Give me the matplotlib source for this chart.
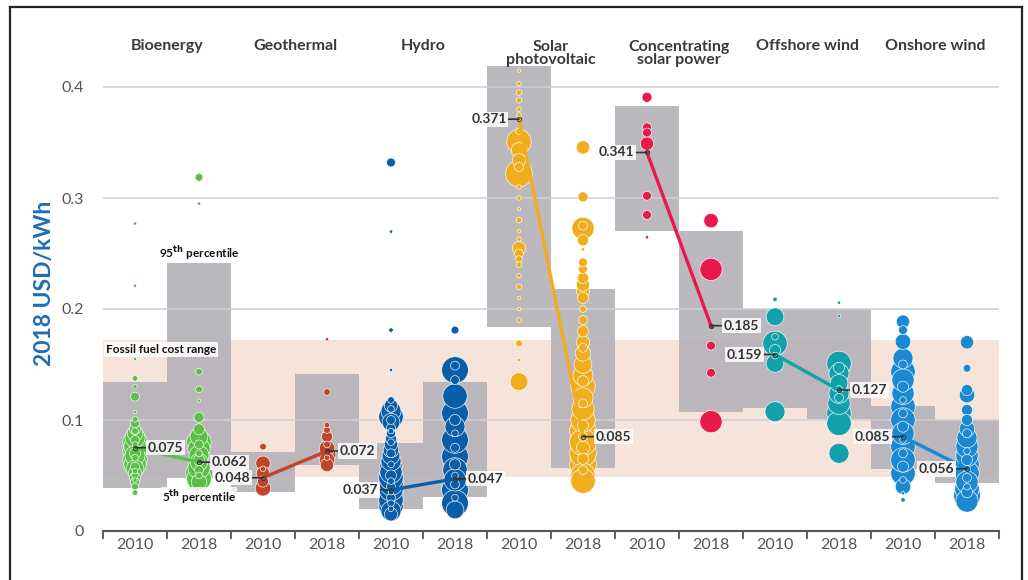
import numpy as np
import matplotlib as mpl
mpl.use('Agg')
import matplotlib.pyplot as plt
from matplotlib.lines import Line2D

plt.rcParams['font.family'] = ['Lato', 'DejaVu Sans']
plt.rcParams['mathtext.fontset'] = 'dejavusans'

# technologies (two columns each: 2010, 2018)
technologies = ['Bioenergy', 'Geothermal', 'Hydro', 'Solar\nphotovoltaic',
                'Concentrating\nsolar power', 'Offshore wind', 'Onshore wind']
years = ['2010', '2018']
tech_colors = ['#5cbf4a', '#c0452b', '#0a5ea8', '#f0ae1e',
               '#e8194b', '#12a0aa', '#1b88d2']

# capacity-weighted averages, 2018 USD/kWh
avg_2010 = [0.075, 0.048, 0.037, 0.371, 0.341, 0.159, 0.085]
avg_2018 = [0.062, 0.072, 0.047, 0.085, 0.185, 0.127, 0.056]

# 5th / 95th percentile boxes
p5_2010 = [0.0385, 0.0354, 0.0195, 0.1835, 0.2705, 0.111, 0.0556]
p95_2010 = [0.1345, 0.0714, 0.0796, 0.419, 0.383, 0.1997, 0.1129]
p5_2018 = [0.0475, 0.0595, 0.0303, 0.0565, 0.1075, 0.101, 0.043]
p95_2018 = [0.2417, 0.141, 0.1345, 0.2177, 0.2705, 0.2, 0.100]

# fossil fuel cost range
fossil_low = 0.049
fossil_high = 0.172

# individual projects: lcoe and relative project size (bubble diameter)
bio_2010_lcoe = [0.277, 0.221, 0.155, 0.1375, 0.130, 0.121, 0.107, 0.1006, 0.097,
                 0.092, 0.088, 0.084, 0.080, 0.076, 0.072, 0.068, 0.064, 0.060,
                 0.056, 0.052, 0.048, 0.044, 0.040, 0.0345, 0.090, 0.082, 0.078,
                 0.070, 0.066, 0.058, 0.054, 0.050, 0.046]
bio_2010_size = [2, 2, 1.5, 5, 4, 8, 3, 5, 8, 10, 14, 18, 22, 20, 22, 18, 22, 20,
                 16, 12, 10, 8, 6, 5, 6, 8, 5, 10, 6, 8, 5, 6, 4]
bio_2018_lcoe = [0.3186, 0.295, 0.1435, 0.1276, 0.1174, 0.1024, 0.0916, 0.085,
                 0.080, 0.074, 0.068, 0.062, 0.057, 0.052, 0.047, 0.044, 0.078,
                 0.070, 0.064, 0.055, 0.050]
bio_2018_size = [7, 2, 6, 6, 3, 9, 10, 16, 22, 20, 18, 16, 20, 24, 22, 14, 8, 6,
                 10, 8, 6]

geo_2010_lcoe = [0.076, 0.061, 0.052, 0.0445, 0.0385, 0.056]
geo_2010_size = [6, 13, 12, 10, 14, 5]
geo_2018_lcoe = [0.1727, 0.1252, 0.0955, 0.091, 0.085, 0.0745, 0.0685, 0.064,
                 0.0595, 0.078, 0.066]
geo_2018_size = [3, 6, 5, 6, 10, 14, 16, 14, 12, 6, 5]

hydro_2010_lcoe = [0.332, 0.2697, 0.181, 0.145, 0.118, 0.113, 0.108, 0.103, 0.098,
                   0.093, 0.088, 0.083, 0.078, 0.073, 0.068, 0.063, 0.058, 0.053,
                   0.048, 0.043, 0.038, 0.033, 0.028, 0.023, 0.018, 0.015, 0.11,
                   0.10, 0.09, 0.08, 0.07, 0.06, 0.05, 0.045, 0.04, 0.035, 0.03,
                   0.025, 0.02]
hydro_2010_size = [8, 2, 4, 3, 6, 12, 18, 22, 16, 8, 8, 10, 12, 14, 16, 18, 20, 20,
                   22, 22, 22, 22, 22, 22, 18, 12, 6, 8, 5, 6, 8, 6, 10, 6, 8, 5,
                   8, 6, 5]
hydro_2018_lcoe = [0.181, 0.145, 0.136, 0.1216, 0.106, 0.094, 0.082, 0.067, 0.055,
                   0.046, 0.037, 0.025, 0.019, 0.149, 0.10, 0.088, 0.075, 0.06,
                   0.05, 0.042, 0.03]
hydro_2018_size = [7, 24, 8, 22, 24, 18, 24, 24, 22, 20, 24, 24, 16, 8, 10, 6, 8,
                   10, 6, 8, 6]

pv_2010_lcoe = [0.4147, 0.403, 0.395, 0.388, 0.380, 0.375, 0.3508, 0.343, 0.334,
                0.322, 0.310, 0.300, 0.290, 0.280, 0.270, 0.2547, 0.250, 0.240,
                0.230, 0.220, 0.210, 0.200, 0.190, 0.169, 0.154, 0.1345, 0.36,
                0.328, 0.263, 0.245]
pv_2010_size = [3, 4, 5, 5, 4, 4, 22, 14, 12, 24, 4, 4, 3, 5, 3, 12, 8, 5, 4, 5,
                3, 3, 4, 6, 3, 16, 6, 8, 4, 6]
pv_2018_lcoe = [0.3456, 0.301, 0.2727, 0.262, 0.2538, 0.242, 0.236, 0.228, 0.222,
                0.216, 0.210, 0.190, 0.180, 0.170, 0.160, 0.150, 0.140, 0.130,
                0.120, 0.110, 0.100, 0.090, 0.080, 0.070, 0.060, 0.050, 0.045,
                0.275, 0.20, 0.165, 0.135, 0.115, 0.095, 0.085, 0.075, 0.065,
                0.055]
pv_2018_size = [12, 9, 20, 10, 3, 8, 8, 10, 12, 12, 10, 8, 10, 12, 14, 16, 18, 22,
                18, 20, 22, 24, 24, 24, 24, 22, 22, 8, 6, 8, 10, 8, 10, 8, 12,
                10, 8]

csp_2010_lcoe = [0.3907, 0.3637, 0.359, 0.349, 0.302, 0.2847, 0.2646]
csp_2010_size = [9, 8, 8, 12, 8, 8, 3]
csp_2018_lcoe = [0.2796, 0.2357, 0.167, 0.1426, 0.0985]
csp_2018_size = [13, 20, 8, 8, 20]

off_2010_lcoe = [0.2087, 0.193, 0.169, 0.163, 0.151, 0.1075, 0.175, 0.158]
off_2010_size = [4, 16, 22, 10, 16, 18, 6, 6]
off_2018_lcoe = [0.2057, 0.1937, 0.151, 0.142, 0.133, 0.124, 0.115, 0.106, 0.097,
                 0.070, 0.147, 0.128, 0.12]
off_2018_size = [2, 2, 22, 18, 16, 18, 20, 22, 22, 18, 10, 6, 8]

on_2010_lcoe = [0.1886, 0.181, 0.1706, 0.1556, 0.1435, 0.136, 0.124, 0.112, 0.100,
                0.088, 0.076, 0.064, 0.052, 0.040, 0.034, 0.028, 0.15, 0.13,
                0.118, 0.106, 0.094, 0.082, 0.07, 0.058, 0.046]
on_2010_size = [12, 8, 14, 18, 22, 20, 20, 22, 22, 20, 22, 22, 22, 14, 3, 4, 8, 10,
                6, 8, 10, 6, 8, 10, 6]
on_2018_lcoe = [0.170, 0.1466, 0.127, 0.1225, 0.109, 0.100, 0.092, 0.084, 0.076,
                0.068, 0.060, 0.052, 0.044, 0.038, 0.032, 0.027, 0.088, 0.072,
                0.064, 0.056, 0.048, 0.04, 0.035]
on_2018_size = [12, 7, 10, 14, 10, 10, 14, 18, 20, 20, 22, 22, 20, 22, 24, 20, 8,
                6, 10, 6, 8, 6, 10]

projects = [
    (bio_2010_lcoe, bio_2010_size), (bio_2018_lcoe, bio_2018_size),
    (geo_2010_lcoe, geo_2010_size), (geo_2018_lcoe, geo_2018_size),
    (hydro_2010_lcoe, hydro_2010_size), (hydro_2018_lcoe, hydro_2018_size),
    (pv_2010_lcoe, pv_2010_size), (pv_2018_lcoe, pv_2018_size),
    (csp_2010_lcoe, csp_2010_size), (csp_2018_lcoe, csp_2018_size),
    (off_2010_lcoe, off_2010_size), (off_2018_lcoe, off_2018_size),
    (on_2010_lcoe, on_2010_size), (on_2018_lcoe, on_2018_size),
]

# which side the average label sits on, per column
label_sides = ['right', 'right', 'left', 'right', 'left', 'right', 'left',
               'right', 'left', 'right', 'left', 'right', 'left', 'left']

TEXT_DARK = '#333333'
TICK_GREY = '#555555'


def draw_bubbles(ax, x, lcoe, size, color):
    '''
    bubbles drawn big first so small ones sit on top with white rims
    '''
    lcoe = np.asarray(lcoe)
    size = np.maximum(np.asarray(size, dtype=float), 3)
    order = np.argsort(-size)
    # edge is drawn half outside, so add its width to the diameter
    ax.scatter(
        np.full(len(lcoe), x), lcoe[order],
        s=(size[order] * 0.8) ** 2,
        color=color, edgecolors='white', linewidths=0.45,
        zorder=4
    )


def label_average(ax, x, value, side):
    dx = 9 if side == 'right' else -9
    ax.annotate(
        '%.3f' % value,
        xy=(x, value), xytext=(dx, 0), textcoords='offset points',
        ha='left' if side == 'right' else 'right', va='center',
        fontsize=10, fontweight='bold', color=TEXT_DARK,
        bbox=dict(boxstyle='square,pad=0.12', fc='white', ec='none', alpha=0.85),
        arrowprops=dict(arrowstyle='-', color=TEXT_DARK, lw=1.2,
                        shrinkA=0, shrinkB=0),
        zorder=7
    )


fig = plt.figure(figsize=(10.28, 5.8), dpi=100)
ax = fig.add_axes([103 / 1028, 49 / 580, 896 / 1028, 499.5 / 580])
ax.set_xlim(0, 14)
ax.set_ylim(0, 0.45)

# fossil fuel band
ax.axhspan(fossil_low, fossil_high, xmin=0, xmax=1, color='#f6e3d9', lw=0, zorder=0)

# percentile boxes
n_tech = len(technologies)
left_x = np.arange(n_tech) * 2 + 0.5
right_x = left_x + 1
ax.bar(left_x, np.array(p95_2010) - np.array(p5_2010), bottom=p5_2010, width=1,
       color='#b6b3b9', alpha=0.93, lw=0, zorder=1)
ax.bar(right_x, np.array(p95_2018) - np.array(p5_2018), bottom=p5_2018, width=1,
       color='#b6b3b9', alpha=0.93, lw=0, zorder=1)

# gridlines
for gy in [0.1, 0.2, 0.3, 0.4]:
    ax.axhline(gy, color='#cfcfd3', lw=1.1, zorder=2)

# bubbles
for i, (lcoe, size) in enumerate(projects):
    draw_bubbles(ax, i + 0.5, lcoe, size, tech_colors[i // 2])

# averages + connecting lines
for t in range(n_tech):
    ax.plot([left_x[t], right_x[t]], [avg_2010[t], avg_2018[t]],
            color=tech_colors[t], lw=2.4, solid_capstyle='round', zorder=5)
    ax.scatter([left_x[t], right_x[t]], [avg_2010[t], avg_2018[t]], s=10,
               color=tech_colors[t], edgecolors=TEXT_DARK, linewidths=0.6, zorder=6)
    label_average(ax, left_x[t], avg_2010[t], label_sides[2 * t])
    label_average(ax, right_x[t], avg_2018[t], label_sides[2 * t + 1])

# technology titles
for t, name in enumerate(technologies):
    two_lines = '\n' in name
    ax.text(2 * t + 1, 0.4300 if two_lines else 0.4370, name,
            ha='center', va='center', fontsize=11.5, fontweight='bold',
            color='#3a3a3a', linespacing=0.95, clip_on=False)

# percentile / fossil annotations
ax.text(1.5, 0.2505, '95$^{\\bf th}$ percentile', ha='center', va='center',
        fontsize=8.5, fontweight='bold', color='#111111', zorder=7)
ax.text(1.5, 0.0306, '5$^{\\bf th}$ percentile', ha='center', va='center',
        fontsize=8.5, fontweight='bold', color='#111111', zorder=7,
        bbox=dict(boxstyle='square,pad=0.1', fc='white', ec='none', alpha=0.8))
ax.text(0.05, 0.1635, 'Fossil fuel cost range', ha='left', va='center',
        fontsize=8.5, fontweight='bold', color='#111111', zorder=7,
        bbox=dict(boxstyle='square,pad=0.15', fc='white', ec='none', alpha=0.9))

# axes styling
for side in ['top', 'right', 'left']:
    ax.spines[side].set_visible(False)
ax.spines['bottom'].set_color(TICK_GREY)
ax.spines['bottom'].set_linewidth(1.5)
ax.spines['bottom'].set_zorder(8)

ax.set_xticks(np.arange(0, 15))
ax.set_xticklabels([])
ax.set_xticks(np.arange(14) + 0.5, minor=True)
ax.set_xticklabels(years * n_tech, minor=True)
ax.tick_params(axis='x', which='major', length=6, width=1.3, color=TICK_GREY,
               direction='out')
ax.tick_params(axis='x', which='minor', length=0, pad=5, labelsize=11.5,
               labelcolor=TICK_GREY)

ax.set_yticks([0, 0.1, 0.2, 0.3, 0.4])
ax.set_yticklabels(['0', '0.1', '0.2', '0.3', '0.4'])
ax.tick_params(axis='y', length=0, pad=14, labelsize=11.5, labelcolor=TICK_GREY)

fig.text(45 / 1028, 1 - 283 / 580, '2018 USD/kWh', rotation=90, ha='center',
         va='center', fontsize=16.5, fontweight='bold', color='#1f6db5')

# outer frame
frame_kw = dict(color='#222222', lw=1.6, transform=fig.transFigure)
fig.add_artist(Line2D([10 / 1028, 10 / 1028], [0, 1 - 7 / 580], **frame_kw))
fig.add_artist(Line2D([10 / 1028, 1022 / 1028], [1 - 7 / 580, 1 - 7 / 580], **frame_kw))
fig.add_artist(Line2D([1022 / 1028, 1022 / 1028], [0, 1 - 7 / 580], **frame_kw))

plt.savefig('out.png', dpi=100)
plt.close()
